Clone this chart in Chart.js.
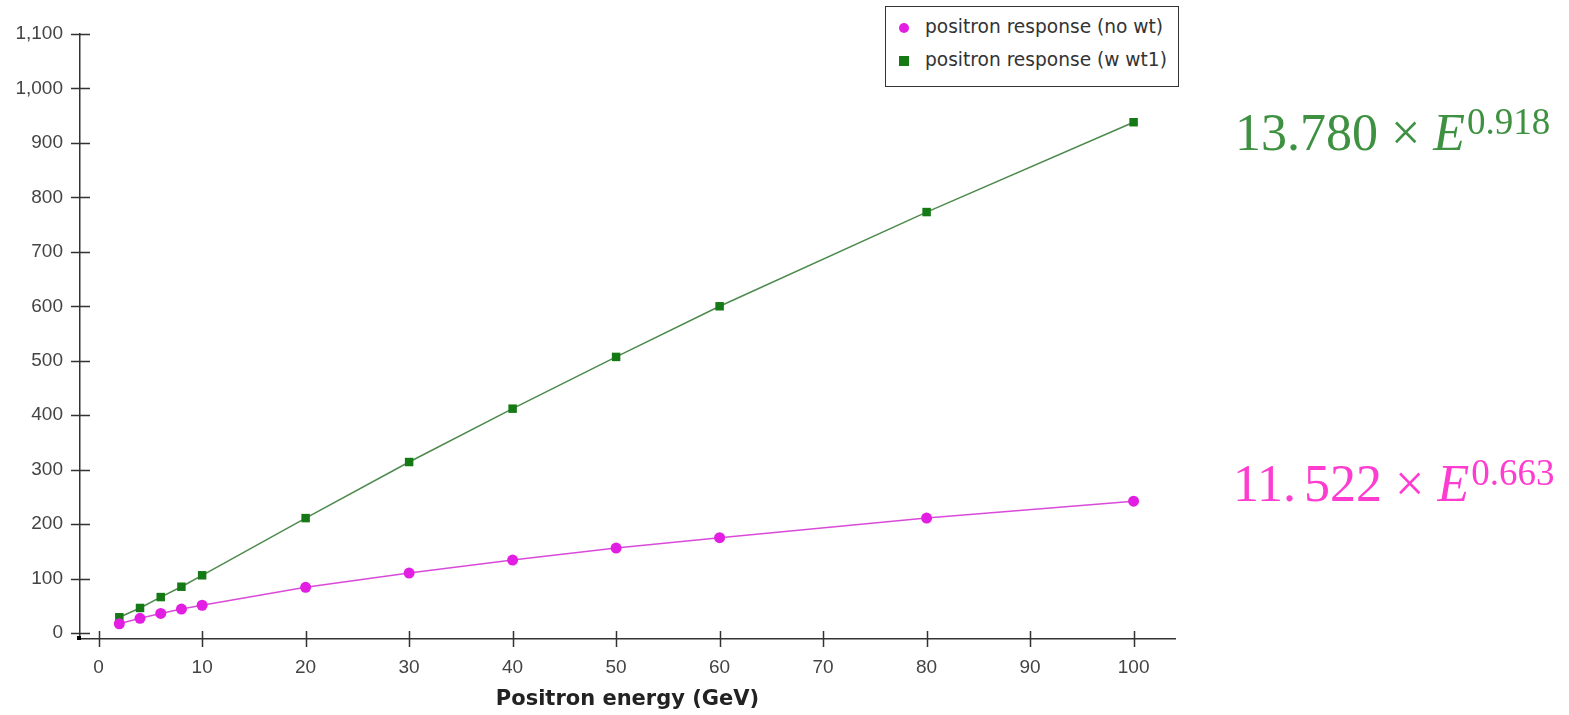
<!DOCTYPE html>
<html>
<head>
<meta charset="utf-8">
<script src="https://cdn.jsdelivr.net/npm/chart.js@4.4.1/dist/chart.umd.min.js"></script>
<style>
    html, body { margin: 0; padding: 0; background: #fff; }
    .wrap { position: relative; width: 1569px; height: 715px; }
    .legend {
        position: absolute; left: 885px; top: 6px; width: 292px; height: 79px;
        border: 1px solid #333; background: #fff;
        font-family: "DejaVu Sans", Verdana, sans-serif; font-size: 18.6px; color: #333;
    }
    .legend .item { position: absolute; left: 13px; height: 22px; line-height: 22px; }
    .legend .mark { display: inline-block; width: 10px; height: 10px; margin-right: 16px; vertical-align: 0; }
    .eq { position: absolute; font-family: "Liberation Serif", serif; font-size: 52px; white-space: nowrap; }
    .eq i { font-style: italic; }
    .eq sup { font-size: 37px; vertical-align: 0; position: relative; top: -16px; margin-left: 2px; }
    .eq .dot { margin-right: 8px; }
</style>
</head>
<body>
<div class="wrap">
    <canvas id="chart" width="1569" height="715"></canvas>
    <div class="legend">
        <div class="item" style="top:9px"><span class="mark" style="background:#e31ee3;border-radius:50%"></span>positron response (no wt)</div>
        <div class="item" style="top:42px"><span class="mark" style="background:#157a15"></span>positron response (w wt1)</div>
    </div>
    <div class="eq" style="left:1235px; top:103px; color:#3f9142">13.780 × <i>E</i><sup>0.918</sup></div>
    <div class="eq" style="left:1233px; top:454px; color:#ff3cd0">11<span class="dot">.</span>522 × <i>E</i><sup>0.663</sup></div>
</div>
<script>
// beam energies (GeV)
const energies = [2, 4, 6, 8, 10, 20, 30, 40, 50, 60, 80, 100];
// responses
const noWt = [17, 27, 36, 44, 51, 84, 110, 134, 156, 175, 211, 242];
const wWt1 = [29, 46, 66, 85, 106, 211, 314, 412, 507, 600, 773, 938];

const xTicks = [0, 10, 20, 30, 40, 50, 60, 70, 80, 90, 100];
const yTicks = [0, 100, 200, 300, 400, 500, 600, 700, 800, 900, 1000, 1100];

const axisColor = "#333";
const tickFont = { family: "Liberation Sans", size: 19 };

/**
 * Draws the little ticks that cross the axis lines
 */
const crossTicks = {
    id: "crossTicks",
    afterDraw(chart) {
        const ctx = chart.ctx;
        const xs = chart.scales.x, ys = chart.scales.y;
        ctx.save();
        ctx.strokeStyle = axisColor;
        ctx.lineWidth = 1.5;
        ctx.beginPath();
        yTicks.forEach(v => {
            const py = Math.round(ys.getPixelForValue(v)) + 0.5;
            ctx.moveTo(xs.left - 9, py);
            ctx.lineTo(xs.left + 10, py);
        });
        xTicks.forEach(v => {
            const px = Math.round(xs.getPixelForValue(v)) + 0.5;
            ctx.moveTo(px, ys.bottom - 8);
            ctx.lineTo(px, ys.bottom + 8);
        });
        ctx.stroke();
        // small mark at the axis corner
        ctx.fillStyle = "#000";
        ctx.fillRect(xs.left - 3, ys.bottom - 3, 4, 4);
        ctx.restore();
    }
};

const pts = (xs, ys) => xs.map((x, i) => ({ x: x, y: ys[i] }));

new Chart(document.getElementById("chart"), {
    type: "line",
    data: {
        datasets: [
            {
                label: "positron response (no wt)",
                data: pts(energies, noWt),
                borderColor: "#d94ad9",
                backgroundColor: "#e31ee3",
                borderWidth: 1.5,
                pointStyle: "circle",
                pointRadius: 5.5,
                pointBorderWidth: 0,
            },
            {
                label: "positron response (w wt1)",
                data: pts(energies, wWt1),
                borderColor: "#4d8a4d",
                backgroundColor: "#157a15",
                borderWidth: 1.5,
                pointStyle: "rect",
                pointRadius: 6,
                pointBorderWidth: 0,
            },
        ],
    },
    options: {
        responsive: false,
        animation: false,
        layout: { padding: { top: 34, right: 394, left: 0, bottom: 0 } },
        plugins: { legend: { display: false }, tooltip: { enabled: false } },
        scales: {
            x: {
                type: "linear",
                min: -1.8,
                max: 104,
                afterBuildTicks: s => { s.ticks = xTicks.map(v => ({ value: v })); },
                afterFit: s => { s.height = 76; },
                grid: { display: false, drawTicks: false },
                border: { color: axisColor, width: 1.5 },
                ticks: { color: "#444", font: tickFont, padding: 17 },
                title: {
                    display: true,
                    text: "Positron energy (GeV)",
                    color: "#222",
                    font: { family: "DejaVu Sans", size: 21, weight: "bold" },
                    padding: { top: 6, bottom: 3 },
                },
            },
            y: {
                min: -11,
                max: 1100,
                afterBuildTicks: s => { s.ticks = yTicks.map(v => ({ value: v })); },
                afterFit: s => { s.width = 80; },
                grid: { display: false, drawTicks: false },
                border: { color: axisColor, width: 1.5 },
                ticks: { color: "#444", font: tickFont, padding: 17 },
            },
        },
    },
    plugins: [crossTicks],
});
</script>
</body>
</html>
